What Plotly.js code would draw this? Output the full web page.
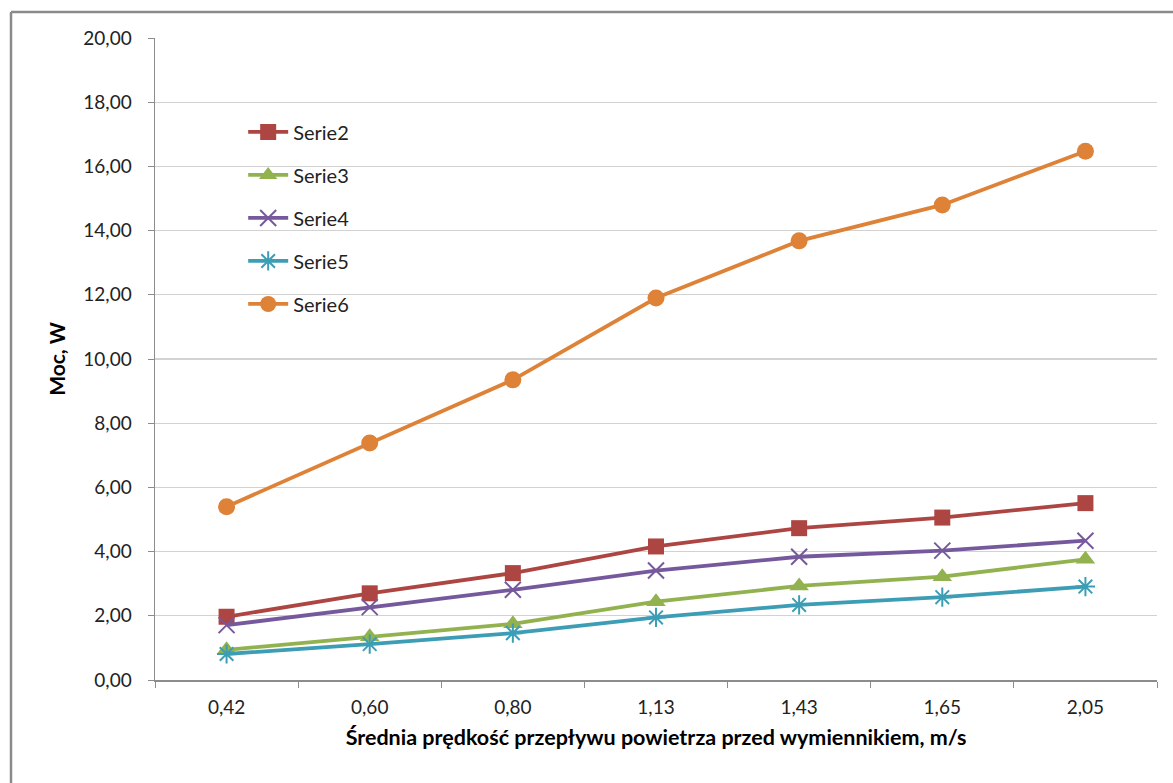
<!DOCTYPE html>
<html>
<head>
<meta charset="utf-8">
<script src="https://cdn.plot.ly/plotly-3.0.1.min.js"></script>
<style>
  html, body { margin: 0; padding: 0; background: #fff; }
  #chart { width: 1173px; height: 783px; }
</style>
</head>
<body>
<div id="chart"></div>
<script>
// Air velocity categories (m/s) and power per series (W)
const categories = ['0,42', '0,60', '0,80', '1,13', '1,43', '1,65', '2,05'];
const serie2 = [1.97, 2.70, 3.33, 4.16, 4.73, 5.06, 5.51];
const serie3 = [0.94, 1.35, 1.75, 2.44, 2.93, 3.22, 3.76];
const serie4 = [1.71, 2.27, 2.81, 3.41, 3.84, 4.03, 4.34];
const serie5 = [0.81, 1.12, 1.46, 1.95, 2.34, 2.58, 2.91];
const serie6 = [5.40, 7.38, 9.35, 11.90, 13.68, 14.80, 16.47];
const yTicks = [0, 2, 4, 6, 8, 10, 12, 14, 16, 18, 20];

const FONT = 'Lato, "Open Sans", sans-serif';

// plot area in pixels, used to place the outer frame in paper units
const PLOT_L = 155, PLOT_T = 38, PLOT_W = 1002, PLOT_H = 642;
const px2x = px => (px - PLOT_L) / PLOT_W;
const px2y = py => (PLOT_T + PLOT_H - py) / PLOT_H;

function series(name, values, color, symbol, size, markerLine) {
  return {
    type: 'scatter',
    mode: 'lines+markers',
    name: name,
    legendgroup: name,
    x: categories,
    y: values,
    line: { color: color, width: 3.8 },
    marker: {
      color: color,
      symbol: symbol,
      size: size,
      line: markerLine || { width: 0 }
    }
  };
}

const traces = [
  series('Serie2', serie2, '#AD4542', 'square', 16),
  series('Serie3', serie3, '#92B24F', 'triangle-up', 17),
  series('Serie4', serie4, '#76599C', 'x-thin-open', 16, { color: '#76599C', width: 2 }),
  series('Serie5', serie5, '#3C9DB5', 'asterisk-open', 16, { color: '#3C9DB5', width: 2 }),
  series('Serie6', serie6, '#DE8238', 'circle', 17)
];

const layout = {
  width: 1173,
  height: 783,
  margin: { l: PLOT_L, r: 1173 - PLOT_L - PLOT_W, t: PLOT_T, b: 783 - PLOT_T - PLOT_H },
  paper_bgcolor: '#ffffff',
  plot_bgcolor: '#ffffff',
  separators: ', ',
  font: { family: FONT, size: 19, color: '#222' },
  showlegend: true,
  legend: {
    x: 0.088, y: 0.884, xanchor: 'left', yanchor: 'top',
    bgcolor: 'rgba(255,255,255,0)',
    font: { family: FONT, size: 20, color: '#222' },
    traceorder: 'grouped',
    tracegroupgap: 14,
    itemwidth: 40
  },
  xaxis: {
    type: 'category',
    range: [-0.5, 6.5],
    showgrid: false,
    showline: true, linecolor: '#8c8c8c', linewidth: 1.5,
    ticks: 'outside', tickson: 'boundaries', ticklen: 6, tickcolor: '#8c8c8c',
    ticklabelstandoff: 10,
    tickfont: { family: FONT, size: 19, color: '#222' },
    title: {
      text: 'Średnia prędkość przepływu powietrza przed wymiennikiem, m/s',
      font: { family: FONT, size: 21.5, color: '#000', weight: 'bold' },
      standoff: 12
    },
    fixedrange: true
  },
  yaxis: {
    range: [0, 20],
    tickvals: yTicks,
    tickformat: '.2f',
    showgrid: true, gridcolor: '#d2d2d2', gridwidth: 1.2,
    zeroline: false,
    showline: true, linecolor: '#8c8c8c', linewidth: 1.5,
    ticks: 'outside', ticklen: 6, tickcolor: '#8c8c8c',
    ticklabelstandoff: 12,
    tickfont: { family: FONT, size: 19, color: '#222' },
    title: {
      text: 'Moc, W',
      font: { family: FONT, size: 21, color: '#000', weight: 'bold' },
      standoff: 12
    },
    fixedrange: true
  },
  shapes: [
    // chart area frame (left and top edges)
    { type: 'line', xref: 'paper', yref: 'paper',
      x0: px2x(11), x1: px2x(11), y0: px2y(12), y1: px2y(800),
      line: { color: '#8a8a8a', width: 2.5 } },
    { type: 'line', xref: 'paper', yref: 'paper',
      x0: px2x(11), x1: px2x(1190), y0: px2y(12), y1: px2y(12),
      line: { color: '#8a8a8a', width: 2.5 } }
  ]
};

Plotly.newPlot('chart', traces, layout, { displayModeBar: false, staticPlot: true });
</script>
</body>
</html>
